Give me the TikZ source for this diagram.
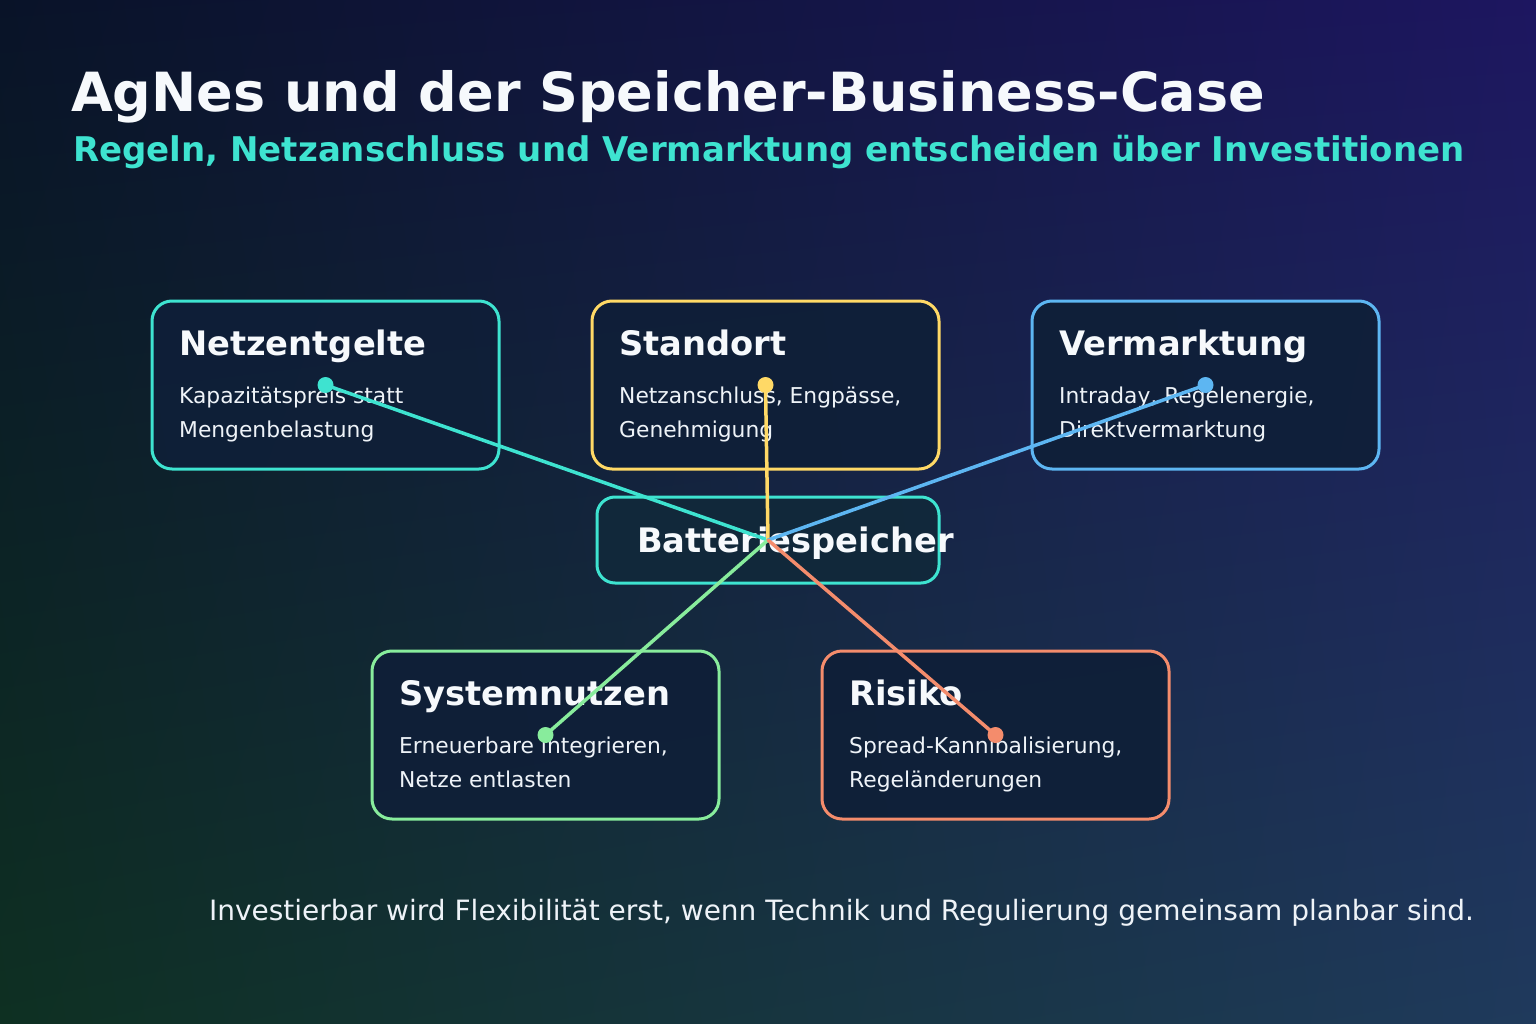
\documentclass[tikz,border=0pt]{standalone}
\usepackage{fontspec}
\setmainfont{DejaVu Sans}
\usetikzlibrary{shadings}
\definecolor{bgTL}{HTML}{091328}
\definecolor{bgTR}{HTML}{1D1660}
\definecolor{bgBL}{HTML}{0E3022}
\definecolor{bgBR}{HTML}{1F3A5C}
\definecolor{cteal}{HTML}{3EE3D0}
\definecolor{cyellow}{HTML}{FFD966}
\definecolor{cblue}{HTML}{5DB6F2}
\definecolor{cgreen}{HTML}{88EC9C}
\definecolor{csalmon}{HTML}{F48C6C}
\definecolor{boxfill}{HTML}{0F1F38}
\definecolor{battfill}{HTML}{11293A}
\definecolor{titlewhite}{HTML}{F6F9FC}
\definecolor{bodywhite}{HTML}{EEF3F8}
\begin{document}
\begin{tikzpicture}[x=1pt,y=-1pt,
  card/.style={draw=#1, line width=3pt, rounded corners=20pt, fill=boxfill, fill opacity=0.92, draw opacity=1,
    minimum width=347pt, minimum height=168pt, inner sep=0pt},
  cardtitle/.style={anchor=base west, inner sep=0pt, text=titlewhite, font=\fontsize{33.7}{40}\selectfont\bfseries},
  cardbody/.style={anchor=base west, inner sep=0pt, text=bodywhite, font=\fontsize{21.8}{25}\selectfont},
  link/.style={draw=#1, line width=3.5pt, line cap=round},
  dot/.style={fill=#1, circle, minimum size=16pt, inner sep=0pt}
]
\useasboundingbox (0,0) rectangle (1536,1024);
\shade[upper left=bgTL, upper right=bgTR, lower left=bgBL, lower right=bgBR] (0,0) rectangle (1536,1024);

% headings
\node[anchor=base west, inner sep=0pt, text=titlewhite, font=\fontsize{54}{60}\selectfont\bfseries] (title) at (71,112) {AgNes und der Speicher-Business-Case};
\node[anchor=base west, inner sep=0pt, text=cteal, font=\fontsize{34}{40}\selectfont\bfseries] (subtitle) at (73,162) {Regeln, Netzanschluss und Vermarktung entscheiden über Investitionen};

% cards
\node[card=cteal] (netz) at (325.5,385) {};
\node[card=cyellow] (stand) at (765.5,385) {};
\node[card=cblue] (verm) at (1205.5,385) {};
\node[card=cgreen] (sys) at (545.5,735) {};
\node[card=csalmon] (risk) at (995.5,735) {};
\node[draw=cteal, line width=3pt, rounded corners=18pt, fill=battfill, fill opacity=0.92, draw opacity=1,
  minimum width=342pt, minimum height=86pt, inner sep=0pt] (batt) at (768,540) {};

% card texts
\node[cardtitle] (netzT) at (179,355) {Netzentgelte};
\node[cardbody] (netzB1) at (179,403) {Kapazitätspreis statt};
\node[cardbody] (netzB2) at (179,437) {Mengenbelastung};

\node[cardtitle] (standT) at (619,355) {Standort};
\node[cardbody] (standB1) at (619,403) {Netzanschluss, Engpässe,};
\node[cardbody] (standB2) at (619,437) {Genehmigung};

\node[cardtitle] (vermT) at (1059,355) {Vermarktung};
\node[cardbody] (vermB1) at (1059,403) {Intraday, Regelenergie,};
\node[cardbody] (vermB2) at (1059,437) {Direktvermarktung};

\node[cardtitle] (sysT) at (399,705) {Systemnutzen};
\node[cardbody] (sysB1) at (399,753) {Erneuerbare integrieren,};
\node[cardbody] (sysB2) at (399,787) {Netze entlasten};

\node[cardtitle] (riskT) at (849,705) {Risiko};
\node[cardbody] (riskB1) at (849,753) {Spread-Kannibalisierung,};
\node[cardbody] (riskB2) at (849,787) {Regeländerungen};

\node[cardtitle] (battT) at (637,552) {Batteriespeicher};

% connectors
\draw[link=cteal] (netz.center) -- (batt.center);
\draw[link=cyellow] (stand.center) -- (batt.center);
\draw[link=cblue] (verm.center) -- (batt.center);
\draw[link=cgreen] (sys.center) -- (batt.center);
\draw[link=csalmon] (risk.center) -- (batt.center);
\node[dot=cteal] (netzD) at (netz.center) {};
\node[dot=cyellow] (standD) at (stand.center) {};
\node[dot=cblue] (vermD) at (verm.center) {};
\node[dot=cgreen] (sysD) at (sys.center) {};
\node[dot=csalmon] (riskD) at (risk.center) {};

% footer
\node[anchor=base east, inner sep=0pt, text=bodywhite, font=\fontsize{28}{32}\selectfont] (footer) at (1474,920) {Investierbar wird Flexibilität erst, wenn Technik und Regulierung gemeinsam planbar sind.};
\end{tikzpicture}
\end{document}
